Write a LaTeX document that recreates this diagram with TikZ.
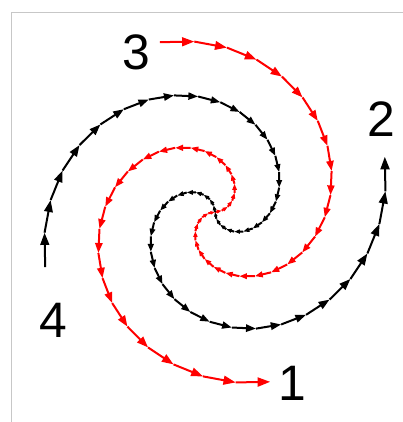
\documentclass[tikz,border=0pt]{standalone}
\usepackage{fontspec}
\setmainfont{Liberation Sans}
\usetikzlibrary{arrows.meta}

\tikzset{
  arm/.style={line width=2bp},
  armlbl/.style={font=\fontsize{50}{50}\selectfont,inner sep=0pt},
  framebox/.style={draw=black!22,line width=0.8bp},
}

% spiral growth, bp per degree
\newcommand{\spgrow}{0.62}

\begin{document}
\begin{tikzpicture}[x=1bp,y=1bp]
\useasboundingbox (-215,-210) rectangle (188,212);
\draw[framebox] (-204,-210) -- (-204,200) -- (188,200);
% four arms, each a chain of short arrows
\foreach \i in {0,...,25}{
  \pgfmathsetmacro\ta{11.077*\i}
  \pgfmathsetmacro\tb{11.077*(\i+1)}
  \pgfmathsetmacro\ra{\spgrow*\ta}
  \pgfmathsetmacro\rb{\spgrow*\tb}
  \pgfmathsetmacro\hlo{4.5+0.045*\rb}
  \pgfmathsetmacro\hwo{0.72*\hlo}
  \pgfmathsetmacro\hli{4.5+0.045*\ra}
  \pgfmathsetmacro\hwi{0.72*\hli}
  % outward arms 1 and 2
  \draw[arm,red,-{Triangle[length=\hlo bp,width=\hwo bp]}] (\ta:\ra) -- (\tb:\rb);
  \draw[arm,black,-{Triangle[length=\hlo bp,width=\hwo bp]}] (\ta+90:\ra) -- (\tb+90:\rb);
  % inward arms 3 and 4
  \draw[arm,red,-{Triangle[length=\hli bp,width=\hwi bp]}] (\tb+180:\rb) -- (\ta+180:\ra);
  \draw[arm,black,-{Triangle[length=\hli bp,width=\hwi bp]}] (\tb+270:\rb) -- (\ta+270:\ra);
}
% labels
\node[armlbl] (lbl1) at (77,-171) {1};
\node[armlbl] (lbl2) at (166,93) {2};
\node[armlbl] (lbl3) at (-79,160) {3};
\node[armlbl] (lbl4) at (-162,-108) {4};
\end{tikzpicture}
\end{document}
